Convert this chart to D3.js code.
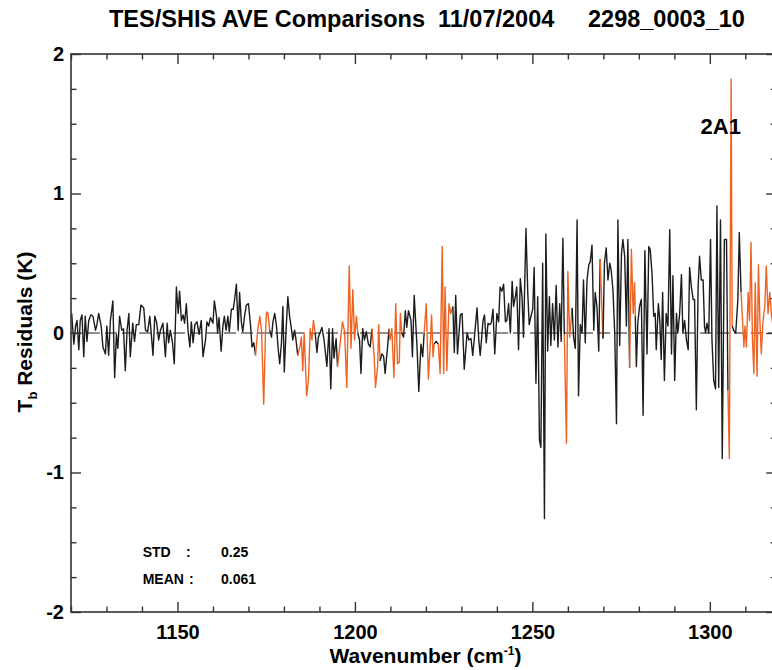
<!DOCTYPE html>
<html><head><meta charset="utf-8">
<script src="https://cdn.jsdelivr.net/npm/d3@7"></script>
<style>
body{margin:0;background:#fff}
svg{display:block}
text{font-family:"Liberation Sans",Arial,Helvetica,sans-serif;font-weight:bold;fill:#000}
</style>
</head><body>
<svg id="c" width="772" height="670"></svg>
<script>
// ---- data ----
const wavenumber = [
1120.2,1120.8,1121.3,1121.7,1122.2,1122.6,1123.1,1123.6,1124.0,1124.5,1125.0,1125.6,1126.2,1126.9,1127.3,1127.8,1128.5,1129.0,1129.7,1130.1,
1130.6,1131.1,1131.8,1132.3,1132.8,1133.2,1133.7,1134.3,1134.8,1135.3,1135.8,1136.3,1136.7,1137.4,1137.9,1138.4,1139.1,1139.7,1140.5,1141.0,
1141.6,1142.2,1142.6,1143.1,1143.6,1144.1,1144.7,1145.2,1145.9,1146.6,1147.1,1147.5,1148.0,1148.6,1149.1,1149.7,1150.2,1150.6,1151.1,1151.6,
1152.0,1152.5,1153.0,1153.5,1153.9,1154.4,1154.9,1155.5,1156.1,1156.7,1157.2,1157.9,1158.3,1158.8,1159.3,1160.0,1160.4,1161.0,1161.3,1161.7,
1162.3,1162.8,1163.2,1163.7,1164.2,1164.6,1165.2,1165.7,1166.1,1166.6,1167.1,1167.5,1168.0,1168.4,1168.9,1169.4,1170.0,1170.6,1171.0,1171.5,
1172.0,1172.6,1173.2,1173.7,1174.3,1174.8,1175.1,1175.5,1176.0,1176.5,1176.9,1177.4,1177.9,1178.4,1178.8,1179.3,1179.7,1180.1,1180.6,1181.1,
1181.6,1182.0,1182.5,1183.0,1183.4,1183.9,1184.5,1184.9,1185.3,1185.7,1186.4,1186.9,1187.4,1187.9,1188.3,1188.8,1189.3,1189.7,1190.7,1191.3,
1192.1,1192.7,1193.2,1193.7,1194.1,1194.7,1195.1,1195.8,1196.5,1197.1,1197.7,1198.4,1198.9,1199.4,1199.9,1200.4,1200.8,1201.3,1201.7,1202.2,
1202.7,1203.2,1203.8,1204.3,1204.8,1205.4,1205.8,1206.4,1206.7,1207.1,1207.6,1208.1,1208.5,1209.2,1209.6,1209.9,1210.4,1211.0,1211.5,1212.0,
1212.5,1212.8,1213.2,1213.7,1214.2,1214.6,1215.1,1215.8,1216.2,1216.7,1217.5,1218.0,1218.6,1219.1,1219.5,1220.1,1220.7,1221.2,1221.6,1222.0,
1222.3,1222.9,1223.5,1224.0,1224.6,1225.0,1225.4,1225.9,1226.5,1227.0,1227.6,1228.0,1228.4,1228.9,1229.7,1230.2,1230.8,1231.6,1232.1,1232.7,
1233.2,1233.6,1234.4,1234.9,1235.3,1236.1,1236.5,1237.0,1237.5,1237.9,1238.4,1238.9,1239.4,1240.0,1240.5,1240.9,1241.4,1241.9,1242.4,1242.8,
1243.3,1243.8,1244.3,1244.7,1245.2,1245.6,1246.1,1246.6,1247.1,1247.5,1248.2,1248.7,1249.1,1249.6,1250.1,1250.5,1251.0,1251.5,1252.0,1252.4,
1252.9,1253.4,1253.8,1254.3,1254.8,1255.2,1255.7,1256.2,1256.7,1257.2,1257.7,1258.1,1258.6,1259.0,1259.6,1260.0,1260.5,1261.2,1261.6,1262.1,
1262.6,1263.0,1263.5,1264.0,1264.4,1264.9,1265.4,1265.9,1266.3,1266.8,1267.3,1267.7,1268.2,1268.7,1269.1,1269.9,1270.3,1270.8,1271.3,1271.8,
1272.2,1272.7,1273.2,1273.7,1274.1,1274.6,1275.1,1275.5,1276.0,1276.5,1276.9,1277.4,1277.9,1278.4,1278.8,1279.0,1279.3,1279.7,1280.2,1280.7,
1281.2,1281.7,1282.3,1282.8,1283.2,1283.7,1284.2,1284.6,1284.9,1285.5,1285.9,1286.3,1286.7,1287.2,1287.7,1288.2,1288.7,1289.2,1289.6,1290.1,
1290.6,1291.0,1291.5,1292.0,1292.4,1292.9,1293.4,1293.9,1294.3,1294.8,1295.3,1295.7,1296.2,1296.7,1297.1,1297.6,1298.1,1298.5,1298.8,1299.2,
1299.7,1300.2,1300.6,1301.1,1301.6,1302.0,1302.5,1303.0,1303.5,1304.1,1304.7,1305.1,1305.5,1306.0,1306.3,1306.7,1307.3,1307.9,1308.3,1308.8,
1309.3,1309.6,1309.9,1310.3,1310.8,1311.2,1311.6,1312.0,1312.4,1312.8,1313.3,1313.7,1314.1,1314.5,1315.0,1315.5,1315.9,1316.4,1316.9,1317.4,
1317.8
];
const residual = [
0.14,-0.08,0.05,0.09,-0.12,0.09,0.13,-0.17,0.12,-0.06,0.09,0.13,0.12,0.02,0.06,0.14,0.05,-0.10,-0.15,0.05,
-0.16,0.09,0.23,-0.32,-0.01,-0.11,0.12,0.02,0.03,-0.27,0.02,0.14,-0.17,0.07,-0.06,0.06,0.06,0.20,0.18,0.02,
0.01,0.12,0.00,-0.16,0.12,0.08,-0.05,0.02,0.07,-0.17,0.07,-0.07,0.02,-0.07,-0.22,0.33,0.14,0.30,0.09,0.13,
0.07,0.21,0.01,-0.10,0.08,-0.07,0.06,0.08,-0.01,0.09,-0.17,-0.05,0.08,0.05,0.11,0.07,0.23,0.12,0.00,0.11,
-0.13,0.05,0.12,0.02,0.12,0.01,0.17,0.17,0.24,0.35,0.02,0.29,0.08,0.01,0.12,0.20,0.21,0.05,-0.10,-0.07,
-0.16,0.02,0.12,0.01,-0.51,0.00,0.15,0.14,0.02,-0.03,0.08,0.14,0.05,-0.12,-0.22,-0.07,0.19,-0.28,0.02,0.26,
0.12,0.05,-0.05,0.02,-0.05,-0.16,-0.10,-0.03,-0.27,0.00,-0.45,-0.34,0.03,-0.05,0.09,0.00,-0.14,-0.03,0.04,-0.05,
-0.24,0.03,-0.40,0.03,-0.18,-0.04,-0.24,-0.08,0.08,0.01,-0.39,0.48,-0.11,0.31,-0.05,0.12,0.00,-0.05,-0.29,0.03,
-0.05,0.01,-0.08,-0.10,0.03,-0.16,-0.39,-0.24,0.06,-0.20,-0.15,-0.17,-0.29,-0.10,0.03,-0.05,0.03,-0.32,0.21,-0.22,
-0.21,0.14,0.00,-0.03,0.16,0.04,0.16,0.09,-0.17,0.27,-0.10,-0.42,-0.08,-0.17,0.00,0.21,-0.33,-0.10,0.13,-0.17,
-0.08,-0.06,-0.08,-0.29,0.62,-0.29,0.33,-0.27,0.21,0.14,0.19,-0.14,0.27,-0.15,0.13,0.14,-0.26,0.00,-0.05,-0.04,
-0.16,-0.05,0.18,-0.05,-0.16,0.09,0.13,-0.07,0.07,0.06,0.07,0.17,-0.15,0.14,0.08,0.33,0.30,0.35,0.08,0.09,
0.21,0.00,0.37,0.19,0.26,0.33,-0.12,0.39,0.25,-0.03,0.75,0.29,0.06,0.12,0.17,0.47,-0.36,0.26,-0.77,-0.82,
0.50,-1.33,0.71,-0.13,0.26,-0.09,0.21,-0.05,0.34,-0.10,0.21,-0.06,0.68,-0.01,-0.79,0.44,-0.03,0.18,-0.03,-0.11,
0.81,-0.45,0.06,0.00,0.38,-0.07,0.38,0.49,0.51,0.63,0.02,0.29,0.19,-0.13,0.53,-0.04,0.50,0.61,0.38,0.50,
0.45,0.31,0.00,-0.65,0.81,-0.09,0.57,0.67,0.55,0.05,0.67,-0.25,0.60,0.14,0.36,0.12,-0.24,0.07,0.19,0.24,
-0.59,0.59,-0.15,0.62,0.60,0.43,0.12,0.14,-0.12,0.21,0.09,-0.19,0.29,-0.34,0.14,0.05,0.74,-0.15,0.41,-0.34,
0.14,0.00,0.14,0.42,0.00,0.09,-0.05,-0.12,0.47,0.33,0.24,0.24,-0.55,0.33,0.55,0.38,0.38,0.05,0.00,0.07,
0.00,0.67,-0.05,-0.34,-0.40,0.91,-0.39,0.81,-0.90,0.67,0.67,-0.41,-0.90,1.82,0.05,0.02,0.00,0.24,0.72,0.29,
0.05,-0.10,0.05,-0.10,0.29,0.09,0.65,-0.03,-0.29,0.36,-0.31,0.49,0.09,-0.15,0.09,0.19,0.48,0.14,0.29,0.12,
0.05
];
// wavenumber bands drawn in orange (selected channels)
const orangeBands = [
[1172.3,1176.1],[1184.1,1188.6],[1195.3,1201.0],[1205.0,1206.9],[1209.7,1213.0],
[1219.8,1222.2],[1223.7,1227.3],[1259.3,1260.9],[1268.95,1270.0],[1277.6,1278.95],
[1305.3,1306.2],[1309.0,1320]
];
const xMajorTicks = [1150,1200,1250,1300];
const xMinorTicks = [1120,1130,1140,1160,1170,1180,1190,1210,1220,1230,1240,1260,1270,1280,1290,1310];
const yMajorTicks = [-2,-1,0,1,2];
const yMinorTicks = [-1.75,-1.5,-1.25,-0.75,-0.5,-0.25,0.25,0.5,0.75,1.25,1.5,1.75];
const titleParts = ["TES/SHIS AVE Comparisons","11/07/2004","2298_0003_10"];
const statLabels = ["STD","MEAN"];
const statValues = ["0.25","0.061"];
const peakLabel = "2A1";

// ---- layout ----
const svg = d3.select("#c");
const L = 71, R = 776.2, T = 54, B = 612;
const x = d3.scaleLinear().domain([1120, 1318.7]).range([L, R]);
const y = d3.scaleLinear().domain([-2, 2]).range([B, T]);
const ORANGE = "#ef6322", BLACK = "#1c1c1c", AXIS = "#333";

svg.append("defs").append("clipPath").attr("id","clip")
  .append("rect").attr("x",L).attr("y",T).attr("width",R-L).attr("height",B-T);

// zero reference line
svg.append("line").attr("x1",x(1120)).attr("x2",x(1318.7)).attr("y1",y(0)).attr("y2",y(0))
  .attr("stroke","#6a6a6a").attr("stroke-width",1.3).attr("stroke-dasharray","12,5");

// data line, split into coloured runs
const pts = wavenumber.map((w,i)=>({w, v: residual[i]}));
const isOrange = w => orangeBands.some(([a,b]) => w >= a && w <= b);
const runs = [];
for (let i = 0; i < pts.length - 1; i++) {
  const c = isOrange((pts[i].w + pts[i+1].w) / 2) ? "o" : "k";
  if (!runs.length || runs[runs.length-1].c !== c) runs.push({c, p:[pts[i]]});
  runs[runs.length-1].p.push(pts[i+1]);
}
const line = d3.line().x(d => x(d.w)).y(d => y(d.v));
const gLine = svg.append("g").attr("clip-path","url(#clip)");
gLine.selectAll("path").data(runs).join("path")
  .attr("d", d => line(d.p)).attr("fill","none")
  .attr("stroke", d => d.c === "o" ? ORANGE : BLACK)
  .attr("stroke-width",1.4).attr("stroke-linejoin","round");

// axes (ticks inward on all four sides)
function styleAxis(g){ g.select(".domain").remove(); g.selectAll(".tick line").attr("stroke",AXIS).attr("stroke-width",1.4); }
svg.append("g").attr("transform",`translate(0,${B})`)
  .call(d3.axisBottom(x).tickValues(xMajorTicks).tickSize(-10).tickPadding(12.8).tickFormat(d=>String(d)))
  .call(styleAxis)
  .call(g=>g.selectAll("text").attr("font-size",20).attr("fill","#000"));
svg.append("g").attr("transform",`translate(0,${B})`)
  .call(d3.axisBottom(x).tickValues(xMinorTicks).tickSize(-5.5).tickFormat("")).call(styleAxis);
svg.append("g").attr("transform",`translate(0,${T})`)
  .call(d3.axisTop(x).tickValues(xMajorTicks).tickSize(-10).tickFormat("")).call(styleAxis);
svg.append("g").attr("transform",`translate(0,${T})`)
  .call(d3.axisTop(x).tickValues(xMinorTicks).tickSize(-5.5).tickFormat("")).call(styleAxis);
svg.append("g").attr("transform",`translate(${L},0)`)
  .call(d3.axisLeft(y).tickValues(yMajorTicks).tickSize(-10).tickPadding(7).tickFormat(d=>String(d)))
  .call(styleAxis)
  .call(g=>g.selectAll("text").attr("font-size",20).attr("fill","#000"));
svg.append("g").attr("transform",`translate(${L},0)`)
  .call(d3.axisLeft(y).tickValues(yMinorTicks).tickSize(-5.5).tickFormat("")).call(styleAxis);
svg.append("g").attr("transform",`translate(${R},0)`)
  .call(d3.axisRight(y).tickValues(yMajorTicks).tickSize(-10).tickFormat("")).call(styleAxis);
svg.append("g").attr("transform",`translate(${R},0)`)
  .call(d3.axisRight(y).tickValues(yMinorTicks).tickSize(-5.5).tickFormat("")).call(styleAxis);

// frame
svg.append("rect").attr("x",L).attr("y",T).attr("width",R-L).attr("height",B-T)
  .attr("fill","none").attr("stroke",AXIS).attr("stroke-width",1.6);

// title
const titleX = [109, 438, 588];
svg.selectAll("text.title").data(titleParts).join("text").attr("class","title")
  .attr("x",(d,i)=>titleX[i]).attr("y",27.3).attr("font-size",23.5).text(d=>d);

// axis titles
const xt = svg.append("text").attr("x",425.5).attr("y",663).attr("text-anchor","middle").attr("font-size",21);
xt.append("tspan").text("Wavenumber (cm");
xt.append("tspan").attr("font-size",12).attr("dy",-8).text("-1");
xt.append("tspan").attr("dy",8).text(")");

const yt = svg.append("text").attr("transform","translate(32,332) rotate(-90)")
  .attr("text-anchor","middle").attr("font-size",21);
yt.append("tspan").text("T");
yt.append("tspan").attr("font-size",13).attr("dy",5).text("b");
yt.append("tspan").attr("dy",-5).text(" Residuals (K)");

// statistics
const statY = [556.7, 584.3];
const colonX = [186, 189];
statLabels.forEach((s,i)=>{
  svg.append("text").attr("x",142.7).attr("y",statY[i]).attr("font-size",14).text(s);
  svg.append("text").attr("x",colonX[i]).attr("y",statY[i]).attr("font-size",14).text(":");
  svg.append("text").attr("x",221).attr("y",statY[i]).attr("font-size",14).text(statValues[i]);
});

// peak label
svg.append("text").attr("x",720.8).attr("y",133.5).attr("text-anchor","middle").attr("font-size",22).text(peakLabel);
</script>
</body></html>
